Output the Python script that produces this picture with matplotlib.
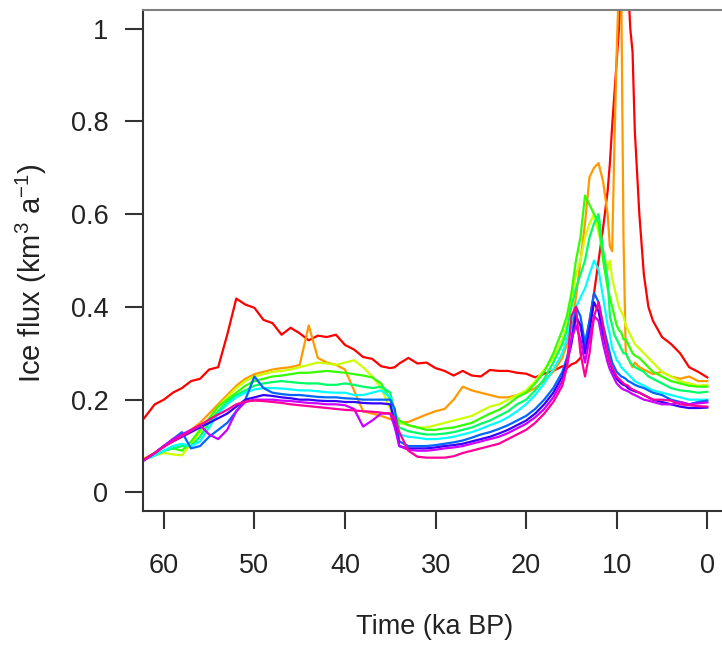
import numpy as np
import matplotlib
matplotlib.use("Agg")
import matplotlib.pyplot as plt

plt.rcParams['font.family'] = ['Liberation Sans', 'DejaVu Sans']
plt.rcParams['mathtext.fontset'] = 'custom'
plt.rcParams['mathtext.rm'] = 'Liberation Sans'
plt.rcParams['mathtext.it'] = 'Liberation Sans'

# time axis (ka BP), shared by every run
time_ka = [62.3, 61, 60, 59, 58, 57, 56, 55, 54, 53, 52, 51, 50, 49, 48, 47, 46, 45, 44, 43,
           42, 41, 40, 39, 38, 37, 36, 35, 34.5, 34, 33, 32, 31, 30, 29, 28, 27, 26, 25, 24,
           23, 22, 21, 20, 19, 18, 17, 16, 15.5, 15, 14.5, 14, 13.5, 13, 12.5, 12, 11.5,
           11, 10.75, 10.5, 10.25, 10, 9.75, 9.5, 9.25, 9, 8.75, 8.5, 8.25, 8,
           7.5, 7, 6.5, 6, 5, 4, 3, 2, 1, 0]

# ice flux (km3/a) for each model run
run1 = [0.157, 0.19, 0.2, 0.215, 0.225, 0.24, 0.245, 0.265, 0.27, 0.34, 0.418, 0.405, 0.398, 0.372, 0.365, 0.34, 0.355, 0.343, 0.328, 0.338,
        0.335, 0.34, 0.318, 0.308, 0.292, 0.288, 0.272, 0.268, 0.27, 0.278, 0.29, 0.278, 0.28, 0.268, 0.262, 0.252, 0.262, 0.252, 0.25, 0.264,
        0.262, 0.262, 0.258, 0.256, 0.248, 0.256, 0.262, 0.272, 0.268, 0.276, 0.28, 0.29, 0.32, 0.37, 0.43, 0.5, 0.57,
        0.65, 0.71, 0.79, 0.86, 0.93, 1.0, 1.1, 1.1, 1.1, 1.1, 1.0, 0.95, 0.78,
        0.6, 0.47, 0.4, 0.37, 0.335, 0.32, 0.3, 0.27, 0.26, 0.248]
run2 = [0.072, 0.085, 0.1, 0.11, 0.12, 0.135, 0.15, 0.17, 0.19, 0.21, 0.23, 0.245, 0.255, 0.26, 0.265, 0.268, 0.27, 0.275, 0.36, 0.29,
        0.28, 0.275, 0.265, 0.22, 0.175, 0.17, 0.165, 0.158, 0.155, 0.15, 0.152, 0.16, 0.168, 0.175, 0.18, 0.2, 0.228, 0.22, 0.215, 0.21,
        0.205, 0.205, 0.21, 0.215, 0.225, 0.24, 0.26, 0.29, 0.32, 0.36, 0.42, 0.5, 0.58, 0.68, 0.7, 0.71, 0.67,
        0.6, 0.53, 0.52, 0.75, 0.95, 1.1, 1.1, 0.55, 0.3, 0.29, 0.28, 0.27, 0.28,
        0.27, 0.265, 0.26, 0.255, 0.26, 0.25, 0.245, 0.25, 0.24, 0.24]
run3 = [0.072, 0.08, 0.085, 0.082, 0.08, 0.105, 0.13, 0.155, 0.185, 0.205, 0.225, 0.24, 0.25, 0.255, 0.26, 0.262, 0.265, 0.27, 0.275, 0.28,
        0.278, 0.275, 0.28, 0.285, 0.27, 0.25, 0.225, 0.18, 0.16, 0.15, 0.145, 0.14, 0.14, 0.145, 0.15, 0.155, 0.16, 0.165, 0.175, 0.185,
        0.19, 0.2, 0.21, 0.22, 0.24, 0.265, 0.29, 0.33, 0.36, 0.42, 0.47, 0.5, 0.55, 0.58, 0.6, 0.56, 0.52,
        0.48, 0.5, 0.46, 0.44, 0.42, 0.4, 0.39, 0.38, 0.36, 0.35, 0.34, 0.33, 0.32,
        0.31, 0.3, 0.29, 0.28, 0.26, 0.25, 0.24, 0.235, 0.23, 0.232]
run4 = [0.07, 0.08, 0.09, 0.095, 0.09, 0.11, 0.135, 0.16, 0.185, 0.2, 0.215, 0.23, 0.24, 0.245, 0.25, 0.252, 0.255, 0.258, 0.258, 0.26,
        0.262, 0.26, 0.258, 0.255, 0.252, 0.248, 0.235, 0.2, 0.17, 0.155, 0.145, 0.14, 0.135, 0.135, 0.138, 0.14, 0.145, 0.15, 0.16, 0.17,
        0.178, 0.19, 0.205, 0.215, 0.235, 0.26, 0.3, 0.35, 0.38, 0.43, 0.5, 0.55, 0.64, 0.62, 0.6, 0.58, 0.5,
        0.44, 0.42, 0.4, 0.38, 0.36, 0.35, 0.345, 0.33, 0.33, 0.32, 0.31, 0.3, 0.295,
        0.29, 0.28, 0.27, 0.26, 0.25, 0.24, 0.235, 0.23, 0.228, 0.228]
run5 = [0.07, 0.08, 0.09, 0.095, 0.1, 0.1, 0.12, 0.15, 0.175, 0.195, 0.21, 0.22, 0.23, 0.235, 0.238, 0.24, 0.238, 0.236, 0.235, 0.235,
        0.232, 0.232, 0.235, 0.232, 0.228, 0.225, 0.228, 0.215, 0.17, 0.14, 0.132, 0.128, 0.125, 0.125, 0.127, 0.13, 0.135, 0.14, 0.148, 0.155,
        0.165, 0.175, 0.19, 0.2, 0.22, 0.245, 0.28, 0.32, 0.35, 0.4, 0.44, 0.47, 0.5, 0.55, 0.58, 0.6, 0.52,
        0.46, 0.38, 0.36, 0.34, 0.33, 0.32, 0.31, 0.3, 0.3, 0.29, 0.28, 0.275, 0.27,
        0.265, 0.26, 0.25, 0.245, 0.235, 0.225, 0.22, 0.218, 0.215, 0.217]
run6 = [0.07, 0.08, 0.09, 0.1, 0.105, 0.1, 0.11, 0.14, 0.17, 0.19, 0.205, 0.215, 0.222, 0.225, 0.225, 0.224, 0.222, 0.22, 0.22, 0.218,
        0.216, 0.215, 0.215, 0.21, 0.21, 0.215, 0.22, 0.205, 0.15, 0.125, 0.12, 0.118, 0.115, 0.115, 0.117, 0.12, 0.125, 0.13, 0.137, 0.145,
        0.152, 0.162, 0.175, 0.19, 0.21, 0.235, 0.265, 0.3, 0.33, 0.37, 0.4, 0.42, 0.44, 0.47, 0.5, 0.48, 0.42,
        0.36, 0.34, 0.31, 0.3, 0.285, 0.28, 0.27, 0.265, 0.26, 0.255, 0.25, 0.245, 0.24,
        0.235, 0.23, 0.225, 0.22, 0.215, 0.21, 0.205, 0.2, 0.2, 0.2]
run7 = [0.068, 0.085, 0.1, 0.115, 0.13, 0.095, 0.1, 0.12, 0.135, 0.15, 0.175, 0.2, 0.25, 0.225, 0.215, 0.212, 0.21, 0.21, 0.208, 0.206,
        0.205, 0.205, 0.203, 0.202, 0.2, 0.2, 0.2, 0.2, 0.18, 0.11, 0.1, 0.1, 0.1, 0.102, 0.105, 0.108, 0.112, 0.118, 0.125, 0.13,
        0.137, 0.145, 0.155, 0.165, 0.18, 0.2, 0.225, 0.26, 0.29, 0.33, 0.4, 0.38, 0.32, 0.37, 0.43, 0.41, 0.36,
        0.32, 0.3, 0.28, 0.27, 0.26, 0.255, 0.25, 0.248, 0.245, 0.24, 0.238, 0.235, 0.232,
        0.228, 0.225, 0.22, 0.215, 0.21, 0.2, 0.195, 0.19, 0.195, 0.198]
run8 = [0.068, 0.085, 0.1, 0.11, 0.12, 0.13, 0.14, 0.15, 0.16, 0.17, 0.185, 0.2, 0.205, 0.21, 0.208, 0.205, 0.203, 0.2, 0.2, 0.198,
        0.197, 0.197, 0.195, 0.195, 0.193, 0.192, 0.192, 0.19, 0.15, 0.1, 0.095, 0.095, 0.095, 0.097, 0.1, 0.102, 0.105, 0.11, 0.115, 0.12,
        0.127, 0.135, 0.145, 0.155, 0.17, 0.19, 0.215, 0.25, 0.28, 0.32, 0.38, 0.36, 0.3, 0.35, 0.41, 0.39, 0.34,
        0.3, 0.28, 0.265, 0.255, 0.245, 0.24, 0.235, 0.232, 0.23, 0.225, 0.222, 0.22, 0.218,
        0.215, 0.21, 0.205, 0.2, 0.195, 0.19, 0.185, 0.182, 0.182, 0.183]
run9 = [0.068, 0.085, 0.1, 0.115, 0.125, 0.135, 0.145, 0.125, 0.115, 0.135, 0.175, 0.195, 0.2, 0.2, 0.2, 0.198, 0.197, 0.195, 0.193, 0.192,
        0.19, 0.19, 0.188, 0.18, 0.142, 0.155, 0.17, 0.17, 0.14, 0.1, 0.092, 0.09, 0.09, 0.092, 0.095, 0.097, 0.1, 0.105, 0.11, 0.115,
        0.12, 0.128, 0.138, 0.148, 0.162, 0.18, 0.205, 0.24, 0.27, 0.33, 0.36, 0.33, 0.28, 0.33, 0.38, 0.37, 0.32,
        0.28, 0.265, 0.255, 0.245, 0.235, 0.23, 0.225, 0.222, 0.22, 0.218, 0.215, 0.212, 0.21,
        0.205, 0.2, 0.198, 0.195, 0.19, 0.19, 0.195, 0.19, 0.192, 0.194]
run10 = [0.07, 0.085, 0.098, 0.11, 0.122, 0.133, 0.145, 0.157, 0.168, 0.178, 0.19, 0.196, 0.198, 0.197, 0.195, 0.193, 0.19, 0.188, 0.186, 0.184,
         0.182, 0.18, 0.178, 0.177, 0.175, 0.174, 0.172, 0.17, 0.16, 0.13, 0.09, 0.077, 0.075, 0.075, 0.075, 0.078, 0.085, 0.09, 0.095, 0.1,
         0.105, 0.115, 0.125, 0.135, 0.15, 0.17, 0.195, 0.23, 0.27, 0.38, 0.4, 0.3, 0.25, 0.3, 0.38, 0.41, 0.36,
         0.3, 0.28, 0.27, 0.26, 0.25, 0.245, 0.24, 0.235, 0.232, 0.23, 0.225, 0.222, 0.22,
         0.215, 0.21, 0.205, 0.2, 0.2, 0.198, 0.19, 0.188, 0.186, 0.185]

runs = [run1, run2, run3, run4, run5, run6, run7, run8, run9, run10]
# R rainbow(10)
colours = ['#FF0000', '#FF9900', '#CCFF00', '#33FF00', '#00FF66',
           '#00FFFF', '#0066FF', '#3300FF', '#CC00FF', '#FF0099']

W, H = 722, 645
fig = plt.figure(figsize=(W / 100, H / 100), dpi=100)
ax = fig.add_axes([143 / W, 134 / H, 586 / W, 501 / H])

for vals, col in zip(runs, colours):
    ax.plot(time_ka, vals, color=col, lw=1.6)

ax.set_xlim(62.3, -2.4)
ax.set_ylim(-0.04, 1.04)
ax.set_xticks([60, 50, 40, 30, 20, 10, 0])
ax.set_yticks([0, 0.2, 0.4, 0.6, 0.8, 1.0])
ax.set_yticklabels(['0', '0.2', '0.4', '0.6', '0.8', '1'])
ax.tick_params(length=13, width=1.5, color='#333333', labelsize=19.5, labelcolor='#222222')
ax.tick_params(axis='x', pad=17)
ax.tick_params(axis='y', pad=12)

ax.spines['right'].set_visible(False)
ax.spines['top'].set_color('#808080')
for s in ['left', 'bottom']:
    ax.spines[s].set_color('#333333')
for s in ['left', 'bottom', 'top']:
    ax.spines[s].set_linewidth(1.5)

ax.set_xlabel('Time (ka BP)', fontsize=19.5, color='#222222')
ax.set_ylabel(r'Ice flux (km$^{3}$ a$^{-1}$)', fontsize=21, color='#222222')
ax.xaxis.set_label_coords(0.498, -0.205)
ax.yaxis.set_label_coords(-0.16, 0.475)

fig.savefig('out.png', dpi=100)
